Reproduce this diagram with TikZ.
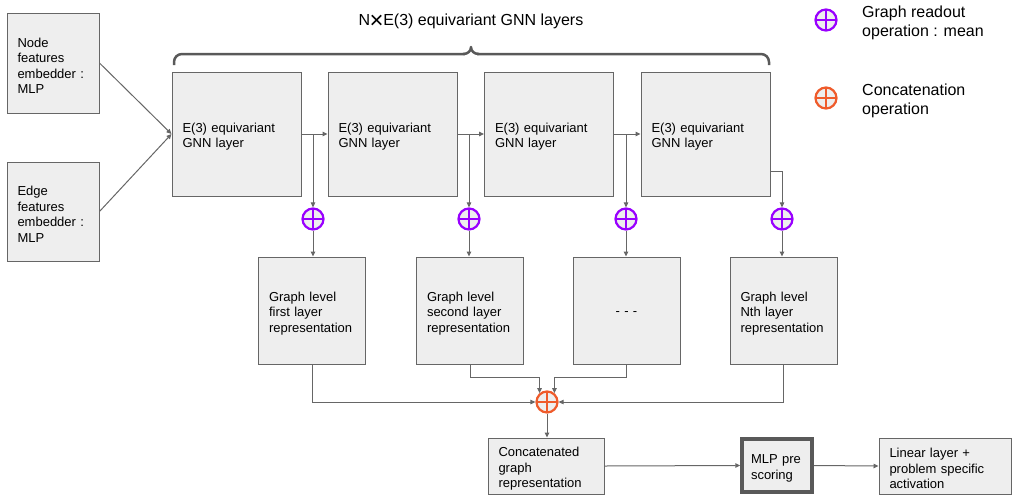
\documentclass[tikz,border=0pt]{standalone}
\usepackage{fontspec}
\setmainfont{Liberation Sans}
\usetikzlibrary{arrows.meta,calc}
\definecolor{linegray}{HTML}{666666}
\definecolor{boxfill}{HTML}{EEEEEE}
\definecolor{bracegray}{HTML}{595959}
\definecolor{readout}{HTML}{9900FF}
\definecolor{concatop}{HTML}{EF5B2B}
\tikzset{
  box/.style={draw=linegray, fill=boxfill, line width=1pt, align=left,
    inner xsep=10pt, inner ysep=0pt, anchor=center, text height=15pt,
    font=\fontsize{13}{15.5}\selectfont},
  arr/.style={draw=linegray, line width=1pt,
    -{Triangle[length=5pt,width=4.5pt]}},
  opnode/.style={circle, draw=#1, line width=2.2pt, fill=boxfill,
    minimum size=21pt, inner sep=0pt,
    path picture={\draw[#1, line width=2.2pt]
      (path picture bounding box.north) -- (path picture bounding box.south)
      (path picture bounding box.west) -- (path picture bounding box.east);}},
  legendtext/.style={align=left, anchor=west, inner sep=0pt,
    font=\fontsize{16}{19.5}\selectfont}
}
\begin{document}
\begin{tikzpicture}[x=1pt, y=-1pt]
\useasboundingbox (0,0) rectangle (1017,496);

% title and brace over the layer stack
\node[font=\fontsize{16}{19}\selectfont] (title) at (471,21.5)
  {N\raisebox{-3.2pt}{\fontsize{24}{19}\selectfont\kern-0.5pt×\kern-0.5pt}E(3) equivariant GNN layers};
\draw[bracegray, line width=2.5pt, rounded corners=8pt]
  (174,65) -- (174,54) -- (465,54);
\draw[bracegray, line width=2.5pt, rounded corners=8pt]
  (477,54) -- (769,54) -- (769,65);
\draw[bracegray, line width=2.5pt, line join=round]
  (463,54) .. controls (468,54) and (471,51) .. (471,47)
  .. controls (471,51) and (474,54) .. (479,54);

% legend
\node[opnode=readout] (lr) at (826,20) {};
\node[legendtext] (lrt) at (862,23) {Graph readout\\operation : mean};
\node[opnode=concatop] (lc) at (826,98) {};
\node[legendtext] (lct) at (862,101) {Concatenation\\operation};

% input embedders
\node[box, minimum width=92pt, minimum height=100pt, text width=71pt] (nodef) at (53,63)
  {Node\\features\\embedder :\\MLP};
\node[box, minimum width=92pt, minimum height=99pt, text width=71pt] (edgef) at (53,211.5)
  {Edge\\features\\embedder :\\MLP};

% equivariant layers
\foreach \n/\x in {g1/236.5, g2/392.5, g3/549, g4/705.5}
  \node[box, minimum width=129pt, minimum height=124pt, text width=108pt] (\n) at (\x,134)
    {E(3) equivariant\\GNN layer};

% readout operators
\foreach \n/\x in {r1/313, r2/469, r3/626, r4/782}
  \node[opnode=readout] (\n) at (\x,219) {};

% graph level representations
\node[box, minimum width=107pt, minimum height=107pt, text width=86pt] (p1) at (312,310.5)
  {Graph level\\first layer\\representation};
\node[box, minimum width=107pt, minimum height=107pt, text width=86pt] (p2) at (470,310.5)
  {Graph level\\second layer\\representation};
\node[box, align=center, text height=9pt, text depth=0pt, minimum width=107pt,
  minimum height=107pt, text width=86pt] (p3) at (626.5,310.5) {- - -};
\node[box, minimum width=107pt, minimum height=107pt, text width=86pt] (p4) at (783.5,310.5)
  {Graph level\\Nth layer\\representation};

% concatenation and head
\node[opnode=concatop] (cc) at (547,402) {};
\node[box, minimum width=116pt, minimum height=56pt, text width=95pt] (concat) at (546,466)
  {Concatenated\\graph\\representation};
\node[box, draw=bracegray, line width=3.5pt, minimum width=70pt, minimum height=53pt,
  inner xsep=8pt, text width=52pt] (mlp) at (777,465.5) {MLP pre\\scoring};
\node[box, minimum width=132pt, minimum height=56pt, text width=111pt] (lin) at (945,466)
  {Linear layer +\\problem specific\\activation};

% connectors
\draw[arr] (nodef.east) -- (g1.west);
\draw[arr] (edgef.east) -- (g1.west);
\draw[arr] (g1.east) -- (g2.west);
\draw[arr] (g2.east) -- (g3.west);
\draw[arr] (g3.east) -- (g4.west);
\draw[arr] (g1.east -| r1.north) -- (r1.north);
\draw[arr] (g2.east -| r2.north) -- (r2.north);
\draw[arr] (g3.east -| r3.north) -- (r3.north);
\draw[arr] ([yshift=25pt]g4.south east) -| (r4.north);
\foreach \i in {1,2,3,4}
  \draw[arr] (r\i.south) -- (r\i.south |- p\i.north);
\draw[arr] (p1.south) |- (cc.west);
\draw[arr] (p4.south) |- (cc.east);
\draw[arr] (p2.south) -- ++(0,13) -| (cc.130);
\draw[arr] (p3.south) -- ++(0,13) -| (cc.50);
\draw[arr] (cc.south) -- (cc.south |- concat.north);
\draw[arr] (concat.east) -- (mlp.west);
\draw[arr] (mlp.east) -- (lin.west);
\end{tikzpicture}
\end{document}
